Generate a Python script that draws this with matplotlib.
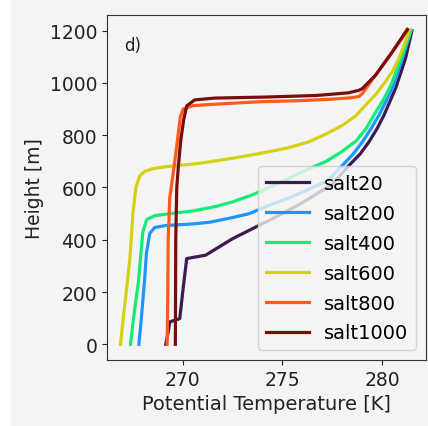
import matplotlib
matplotlib.use('Agg')
import matplotlib.pyplot as plt
from matplotlib.patches import Rectangle

# profiles: potential temperature [K] vs height [m]
t_salt20 = [269.15, 269.30, 269.35, 269.85, 270.00, 270.20, 271.15, 272.50, 273.70,
            275.00, 275.85, 277.50, 278.35, 278.90, 279.35, 279.75, 280.10, 280.68,
            281.18, 281.50]
h_salt20 = [0, 60, 86, 98, 200, 328, 341, 404, 450,
            500, 535, 612, 685, 728, 775, 825, 877, 979,
            1094, 1200]

t_salt200 = [267.80, 267.90, 267.98, 268.10, 268.18, 268.35, 268.60, 269.10, 269.70, 270.40,
             271.35, 272.50, 273.35, 274.20, 275.20, 276.40, 277.30, 278.02, 278.55,
             279.02, 279.45, 279.85, 280.52, 281.02, 281.45]
h_salt200 = [0, 80, 150, 260, 350, 425, 447, 454, 457, 460,
             467, 485, 500, 528, 556, 595, 628, 685, 728,
             775, 825, 877, 979, 1094, 1200]

t_salt400 = [267.38, 267.50, 267.65, 267.78, 267.88, 268.00, 268.20, 268.60, 269.70,
             270.50, 271.70, 272.50, 273.50, 274.50, 275.20, 276.00, 277.20, 278.00,
             278.70, 279.20, 279.70, 280.10, 280.45, 281.02, 281.45]
h_salt400 = [0, 80, 170, 240, 330, 430, 478, 492, 503,
             510, 528, 545, 572, 606, 630, 660, 700, 738,
             778, 825, 890, 940, 992, 1106, 1200]

t_salt600 = [266.88, 267.00, 267.18, 267.35, 267.50, 267.65, 267.85, 268.10, 268.50,
             269.20, 270.80, 272.50, 273.85, 275.20, 276.35, 277.20, 278.02, 278.70,
             279.18, 279.70, 280.18, 280.55, 280.85, 281.38]
h_salt600 = [0, 90, 210, 330, 500, 600, 645, 662, 672,
             680, 692, 712, 730, 750, 775, 805, 838, 875,
             915, 958, 1005, 1048, 1094, 1200]

t_salt800 = [269.22, 269.25, 269.27, 269.35, 269.60, 269.75, 269.88, 270.02,
             270.50, 271.50, 273.85, 275.80, 277.50, 278.40, 278.85, 279.02,
             279.68, 280.52, 281.27]
h_salt800 = [0, 200, 400, 560, 698, 790, 870, 900,
             913, 918, 928, 932, 938, 943, 948, 960,
             1030, 1119, 1200]

t_salt1000 = [269.63, 269.64, 269.65, 269.70, 269.78, 269.90, 270.05, 270.20,
              270.60, 271.60, 274.20, 276.70, 278.30, 278.85, 279.02,
              279.68, 280.52, 281.27]
h_salt1000 = [0, 200, 400, 600, 680, 780, 860, 912,
              935, 942, 946, 952, 962, 972, 979,
              1030, 1119, 1205]

labels = ['salt20', 'salt200', 'salt400', 'salt600', 'salt800', 'salt1000']
colors = ['#3d1a52', '#1e96ff', '#14eb78', '#d6d012', '#ff5a1e', '#7a0c0c']

series = [(t_salt20, h_salt20), (t_salt200, h_salt200), (t_salt400, h_salt400),
          (t_salt600, h_salt600), (t_salt800, h_salt800), (t_salt1000, h_salt1000)]

bg = '#f4f4f4'
fig = plt.figure(figsize=(4.28, 4.27), dpi=100, facecolor=bg)
# white strip on the left edge of the screenshot
fig.patches.append(Rectangle((0, 0), 11 / 428, 1, transform=fig.transFigure,
                             facecolor='white', edgecolor='none', zorder=0))
ax = fig.add_axes([0.25, 0.1546, 0.745, 0.808])
ax.set_facecolor(bg)

for (t, h), lab, c in zip(series, labels, colors):
    ax.plot(t, h, color=c, lw=2.3, label=lab)

ax.set_xlim(266.2, 282.2)
ax.set_ylim(-60, 1260)
ax.set_xticks([270, 275, 280])
ax.set_yticks([0, 200, 400, 600, 800, 1000, 1200])
ax.tick_params(labelsize=13.5, colors='#222222')
for s in ax.spines.values():
    s.set_color('#333333')

ax.set_xlabel('Potential Temperature [K]', fontsize=14, color='#222222')
ax.set_ylabel('Height [m]', fontsize=13.5, color='#222222')
ax.text(0.053, 0.913, 'd)', transform=ax.transAxes, fontsize=12,
        va='center', ha='left', color='#222222')

leg = ax.legend(loc='lower right', fontsize=14, handlelength=2.2,
                labelspacing=0.56, facecolor=bg, framealpha=0.8)

plt.savefig('out.png', dpi=100, facecolor=bg)
